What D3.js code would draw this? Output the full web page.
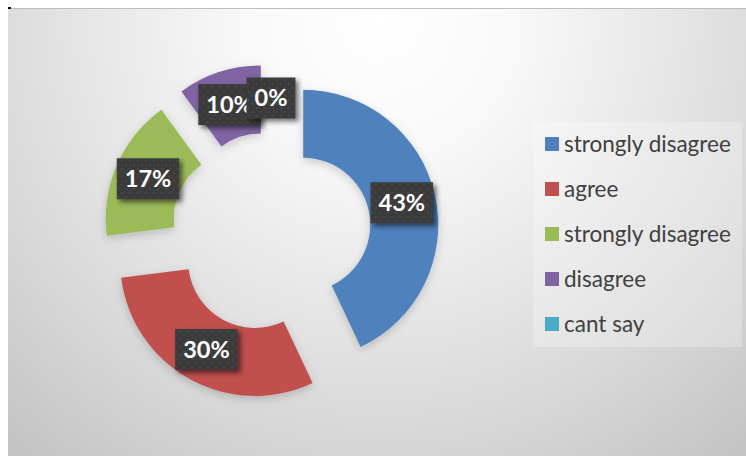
<!DOCTYPE html>
<html>
<head>
<meta charset="utf-8">
<script src="https://cdn.jsdelivr.net/npm/d3@7"></script>
<style>
  html, body { margin: 0; padding: 0; background: #ffffff; }
  svg { display: block; }
</style>
</head>
<body>
<svg id="chart" width="746" height="456"></svg>
<script>
// Survey responses shown as an exploded doughnut
const categories = ["strongly disagree", "agree", "strongly disagree", "disagree", "cant say"];
const values = [43, 30, 17, 10, 0];
const labels = ["43%", "30%", "17%", "10%", "0%"];
const colors = ["#4F81BD", "#C0504D", "#9BBB59", "#8064A2", "#4BACC6"];

const svg = d3.select("#chart");
const W = 746, H = 456;
const defs = svg.append("defs");

// chart-area background: radial gradient, light at top centre
const bg = defs.append("radialGradient").attr("id", "bgGrad")
  .attr("gradientUnits", "userSpaceOnUse")
  .attr("cx", 380).attr("cy", 20).attr("r", 560);
bg.append("stop").attr("offset", 0).attr("stop-color", "#ffffff");
bg.append("stop").attr("offset", 0.25).attr("stop-color", "#f8f8f8");
bg.append("stop").attr("offset", 0.75).attr("stop-color", "#d7d7d7");
bg.append("stop").attr("offset", 1).attr("stop-color", "#c4c4c4");

// dotted texture for the data-label boxes
const pat = defs.append("pattern").attr("id", "dots")
  .attr("patternUnits", "userSpaceOnUse").attr("width", 8).attr("height", 8);
pat.append("rect").attr("width", 8).attr("height", 8).attr("fill", "#3b3b3b");
pat.append("circle").attr("cx", 2).attr("cy", 2).attr("r", 1.1).attr("fill", "#4a4a4a");
pat.append("circle").attr("cx", 6).attr("cy", 6).attr("r", 1.1).attr("fill", "#4a4a4a");

// shadow under label boxes
const sh = defs.append("filter").attr("id", "boxShadow")
  .attr("x", "-30%").attr("y", "-30%").attr("width", "170%").attr("height", "170%");
sh.append("feDropShadow").attr("dx", 3).attr("dy", 3).attr("stdDeviation", 2.5)
  .attr("flood-color", "#000").attr("flood-opacity", 0.55);

// soft shadow under slices
const ssh = defs.append("filter").attr("id", "sliceShadow")
  .attr("x", "-20%").attr("y", "-20%").attr("width", "140%").attr("height", "140%");
ssh.append("feDropShadow").attr("dx", 0).attr("dy", 3).attr("stdDeviation", 4)
  .attr("flood-color", "#000").attr("flood-opacity", 0.18);

const area = { x: 8, y: 8, w: W - 8, h: H - 8 };
svg.append("rect")
  .attr("x", area.x).attr("y", area.y).attr("width", area.w).attr("height", area.h)
  .attr("fill", "url(#bgGrad)");
svg.append("line")
  .attr("x1", area.x).attr("x2", W).attr("y1", area.y + 0.5).attr("y2", area.y + 0.5)
  .attr("stroke", "#bdbdbd").attr("stroke-width", 1);
svg.append("rect").attr("x", 8).attr("y", 7).attr("width", 3).attr("height", 2).attr("fill", "#111");

// doughnut geometry
const cx = 271, cy = 232;
const outerR = 135, innerR = 67, explode = 33;

const pie = d3.pie().value(d => d).sort(null)(values);
const arc = d3.arc().innerRadius(innerR).outerRadius(outerR);
const labelArc = d3.arc().innerRadius((innerR + outerR) / 2).outerRadius((innerR + outerR) / 2);

const g = svg.append("g").attr("transform", `translate(${cx},${cy})`);

function offset(d) {
  const a = (d.startAngle + d.endAngle) / 2;
  return [explode * Math.sin(a), -explode * Math.cos(a)];
}

g.selectAll("path.slice").data(pie).enter().append("path")
  .attr("class", "slice")
  .attr("transform", d => `translate(${offset(d)})`)
  .attr("d", arc)
  .attr("fill", (d, i) => colors[i])
  .attr("filter", "url(#sliceShadow)");

// data labels
const lab = g.selectAll("g.lab").data(pie).enter().append("g")
  .attr("class", "lab")
  .attr("transform", d => {
    const o = offset(d);
    const c = labelArc.centroid(d);
    return `translate(${c[0] + o[0]},${c[1] + o[1]})`;
  });

lab.each(function (d, i) {
  const el = d3.select(this);
  const t = el.append("text")
    .attr("text-anchor", "middle").attr("dy", "0.36em")
    .attr("font-family", "Lato, 'Open Sans', sans-serif")
    .attr("font-weight", "bold").attr("font-size", 23.5)
    .attr("fill", "#ffffff").text(labels[i]);
  const bw = t.node().getComputedTextLength() + 16;
  el.insert("rect", "text")
    .attr("x", -bw / 2).attr("y", -20.5).attr("width", bw).attr("height", 41)
    .attr("fill", "url(#dots)").attr("filter", "url(#boxShadow)");
});

// legend
const lg = svg.append("g");
lg.append("rect").attr("x", 533).attr("y", 122).attr("width", 209).attr("height", 225)
  .attr("fill", "#ffffff").attr("fill-opacity", 0.25);
const rowY = d3.scalePoint().domain(d3.range(categories.length)).range([144, 324]);
const rows = lg.selectAll("g.row").data(categories).enter().append("g")
  .attr("transform", (d, i) => `translate(545,${rowY(i)})`);
rows.append("rect").attr("x", 0).attr("y", -7).attr("width", 14).attr("height", 14)
  .attr("fill", (d, i) => colors[i]);
rows.append("text").attr("x", 19).attr("dy", "0.35em")
  .attr("font-family", "Lato, 'Open Sans', sans-serif").attr("font-size", 22.5)
  .attr("fill", "#404040").text(d => d);
</script>
</body>
</html>
